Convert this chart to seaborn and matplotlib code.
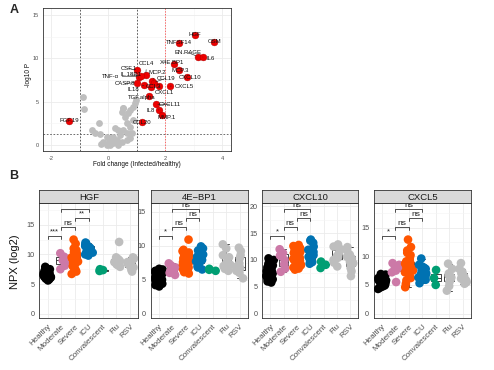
import numpy as np
import pandas as pd
import matplotlib
matplotlib.use("Agg")
import matplotlib.pyplot as plt
from matplotlib.ticker import MultipleLocator
import seaborn as sns

# ---------------- Panel A data (volcano) ----------------
red_names = ["HGF", "TNFSF14", "OSM", "EN.RAGE", "IL6", "X4E.BP1", "MCP.3", "CXCL10",
             "CXCL5", "CSF.1", "CCL4", "MCP.2", "TNF-α", "IL.18R1", "CASP.8", "CCL19",
             "CCL3", "IL18", "CXCL1", "TGF.alpha", "CXCL11", "IL8", "MMP.1", "CCL20", "FGF.19"]
red_fc = [3.05, 2.50, 3.73, 3.15, 3.32, 2.32, 2.47, 2.76,
          2.18, 1.00, 1.32, 1.55, 1.10, 1.14, 1.00, 1.60,
          1.52, 1.26, 1.80, 1.44, 1.67, 1.79, 1.90, 1.18, -1.36]
red_logp = [12.65, 11.80, 11.90, 10.20, 10.15, 9.35, 8.60, 7.90,
            6.80, 8.60, 8.10, 7.40, 7.90, 7.95, 7.20, 7.20,
            6.70, 6.90, 6.80, 5.66, 4.70, 4.05, 3.47, 2.62, 2.78]
gray_fc = [-0.89, -0.84, -0.32, -0.57, -0.28, -0.16, -0.05, 0.07, 0.19, 0.31,
           0.42, 0.07, -0.05, 0.19, 0.48, 0.54, 0.60, 0.71, 0.77, 0.87,
           0.95, 0.98, 0.66, 0.77, 0.54, 0.66, 0.36, 0.25, 0.89, -0.25,
           0.36, 0.48, 0.66, 0.77, 0.83, -0.46, 0.51, 0.02, 0.28, 0.12]
gray_logp = [5.50, 4.13, 2.50, 1.73, 1.24, 0.38, 0.05, 0.02, 0.20, 0.58,
             1.16, 0.77, 0.96, 0.96, 3.85, 4.24, 3.27, 3.66, 4.05, 4.43,
             4.80, 5.20, 2.50, 2.12, 1.73, 1.35, 1.73, 1.93, 2.90, 0.10,
             0.05, 0.38, 0.58, 0.77, 1.35, 1.35, 4.30, 0.45, 0.30, 0.55]

# ---------------- Panel B data ----------------
groups = ["Healthy", "Moderate", "Severe", "ICU", "Convalescent", "Flu", "RSV"]
proteins = ["HGF", "4E\u2212BP1", "CXCL10", "CXCL5"]

hgf_healthy = [5.6, 5.8, 5.9, 6.0, 6.1, 6.2, 6.2, 6.3, 6.4, 6.4, 6.5, 6.5, 6.6, 6.6, 6.7,
               6.7, 6.8, 6.8, 6.9, 7.0, 7.0, 7.1, 7.2, 7.3, 7.4, 7.5, 7.7, 7.9]
hgf_moderate = [7.5, 8.1, 8.8, 9.0, 9.4, 9.6, 10.2]
hgf_severe = [6.7, 7.1, 7.4, 7.8, 8.0, 8.2, 8.3, 8.5, 8.6, 8.7, 8.8, 8.9, 9.0, 9.0, 9.1,
              9.2, 9.3, 9.4, 9.5, 9.6, 9.7, 9.8, 9.9, 10.0, 10.2, 10.4, 10.7, 11.0, 11.8, 12.5]
hgf_icu = [9.8, 10.0, 10.2, 10.3, 10.5, 10.6, 10.8, 11.0, 11.1, 11.2, 11.4, 11.6, 11.8, 11.9, 12.0]
hgf_conv = [7.2, 7.35, 7.5]
hgf_flu = [7.9, 8.2, 8.3, 8.5, 8.7, 8.9, 9.0, 9.2, 9.5, 12.1]
hgf_rsv = [7.1, 7.4, 7.8, 8.0, 8.2, 8.3, 8.5, 8.7, 8.9, 9.1, 9.3, 9.5]

bp1_healthy = [4.0, 4.2, 4.3, 4.4, 4.5, 4.6, 4.7, 4.8, 4.9, 5.0, 5.0, 5.1, 5.2, 5.2, 5.3,
               5.4, 5.5, 5.5, 5.6, 5.7, 5.8, 5.9, 6.0, 6.1, 6.2, 6.3, 6.5, 6.6]
bp1_moderate = [5.7, 6.0, 6.3, 6.5, 6.8, 7.1, 7.4]
bp1_severe = [5.9, 6.1, 6.3, 6.5, 6.6, 6.8, 6.9, 7.0, 7.1, 7.2, 7.3, 7.4, 7.5, 7.6, 7.7,
              7.8, 7.9, 8.0, 8.1, 8.2, 8.3, 8.4, 8.5, 8.6, 8.7, 8.8, 9.0, 9.2, 9.4, 10.9]
bp1_icu = [6.5, 6.8, 7.0, 7.3, 7.5, 7.7, 7.9, 8.0, 8.2, 8.4, 8.7, 9.0, 9.3, 9.6, 9.9]
bp1_conv = [6.3, 6.45, 6.6]
bp1_flu = [6.3, 6.6, 6.9, 7.0, 7.2, 7.5, 8.3, 8.6, 9.6, 10.2]
bp1_rsv = [5.2, 6.0, 6.3, 6.5, 6.7, 6.8, 7.0, 7.4, 8.2, 8.6, 9.2, 9.7]

cx10_healthy = [5.8, 6.0, 6.2, 6.4, 6.5, 6.7, 6.8, 6.9, 7.0, 7.1, 7.2, 7.3, 7.4, 7.5, 7.6,
                7.7, 7.8, 7.9, 8.0, 8.2, 8.4, 8.6, 8.8, 9.0, 9.3, 9.6, 10.0, 10.3]
cx10_moderate = [7.8, 8.4, 9.2, 10.0, 10.8, 11.3, 12.0]
cx10_severe = [8.2, 8.4, 8.6, 8.8, 9.0, 9.2, 9.3, 9.4, 9.5, 9.6, 9.8, 9.9, 10.0, 10.2, 10.4,
               10.6, 10.8, 11.0, 11.1, 11.2, 11.3, 11.4, 11.5, 11.6, 11.8, 12.0, 12.2, 12.4, 12.6, 12.8]
cx10_icu = [9.3, 9.6, 9.8, 10.0, 10.3, 10.6, 10.9, 11.1, 11.3, 11.5, 11.9, 12.5, 13.2, 13.6, 13.8]
cx10_conv = [8.5, 9.1, 9.7]
cx10_flu = [8.8, 9.5, 10.0, 10.4, 10.7, 11.0, 11.5, 12.0, 12.5, 12.9]
cx10_rsv = [7.0, 7.9, 8.5, 9.0, 9.4, 9.7, 10.0, 10.3, 10.6, 11.0, 11.8, 12.4]

cx5_healthy = [4.3, 4.5, 4.6, 4.7, 4.8, 4.9, 5.0, 5.1, 5.2, 5.2, 5.3, 5.4, 5.5, 5.5, 5.6,
               5.7, 5.8, 5.8, 5.9, 6.0, 6.1, 6.2, 6.3, 6.4, 6.5, 6.6, 6.8, 6.9]
cx5_moderate = [5.5, 7.2, 7.5, 7.9, 8.0, 8.5, 8.8]
cx5_severe = [4.6, 5.2, 5.8, 6.2, 6.5, 6.8, 7.0, 7.2, 7.4, 7.5, 7.6, 7.7, 7.8, 7.9, 8.0,
              8.1, 8.2, 8.3, 8.4, 8.5, 8.7, 8.9, 9.1, 9.4, 9.8, 10.2, 10.6, 11.0, 11.6, 12.9]
cx5_icu = [5.3, 5.9, 6.3, 6.5, 6.7, 6.9, 7.0, 7.2, 7.4, 7.6, 7.8, 8.0, 8.2, 8.5, 9.6]
cx5_conv = [5.0, 6.2, 7.6]
cx5_flu = [4.0, 4.8, 5.5, 6.0, 6.2, 6.4, 6.7, 7.0, 7.8, 8.7]
cx5_rsv = [5.2, 5.5, 5.8, 6.0, 6.1, 6.3, 6.5, 6.8, 7.0, 7.3, 7.8, 8.8]

comparisons = [("Healthy", "Moderate"), ("Moderate", "Severe"), ("Severe", "ICU"), ("Moderate", "ICU")]
sig_hgf = ["***", "ns", "**", ""]
sig_bp1 = ["*", "ns", "ns", "ns"]
sig_cx10 = ["*", "ns", "ns", "ns"]
sig_cx5 = ["*", "ns", "ns", "ns"]

facet_values = [
    [hgf_healthy, hgf_moderate, hgf_severe, hgf_icu, hgf_conv, hgf_flu, hgf_rsv],
    [bp1_healthy, bp1_moderate, bp1_severe, bp1_icu, bp1_conv, bp1_flu, bp1_rsv],
    [cx10_healthy, cx10_moderate, cx10_severe, cx10_icu, cx10_conv, cx10_flu, cx10_rsv],
    [cx5_healthy, cx5_moderate, cx5_severe, cx5_icu, cx5_conv, cx5_flu, cx5_rsv],
]
facet_sigs = [sig_hgf, sig_bp1, sig_cx10, sig_cx5]

# ---------------- style ----------------
sns.set_theme(style="white")
plt.rcParams["font.family"] = ["Liberation Sans", "DejaVu Sans"]
plt.rcParams["axes.unicode_minus"] = False
np.random.seed(3)

palette = {"Healthy": "#000000", "Moderate": "#CC79A7", "Severe": "#FF5500", "ICU": "#0072B2",
           "Convalescent": "#009E73", "Flu": "#BEBEBE", "RSV": "#BEBEBE"}
GRID_MAJ = "#EBEBEB"
GRID_MIN = "#F4F4F4"
BORDER = "#333333"
TXT = "#4D4D4D"

W, H = 494, 370
fig = plt.figure(figsize=(W / 100, H / 100), dpi=100)


def px_rect(x0, y0, x1, y1):
    return [x0 / W, 1 - y1 / H, (x1 - x0) / W, (y1 - y0) / H]


def style_ax(ax, fs, pad=1.5):
    for s in ax.spines.values():
        s.set_color(BORDER)
        s.set_linewidth(0.6)
    ax.tick_params(axis="both", which="major", length=2, width=0.5, color=BORDER,
                   labelsize=fs, labelcolor=TXT, pad=pad)
    ax.tick_params(axis="both", which="minor", length=0)
    ax.grid(True, which="major", color=GRID_MAJ, linewidth=0.6, zorder=0)
    ax.grid(True, which="minor", color=GRID_MIN, linewidth=0.4, zorder=0)
    ax.set_axisbelow(True)


# ---------------- Panel A ----------------
axA = fig.add_axes(px_rect(43.3, 8.3, 230.7, 151.5))
volc = pd.DataFrame({
    "fc": red_fc + gray_fc,
    "logp": red_logp + gray_logp,
    "sig": ["sig"] * len(red_fc) + ["ns"] * len(gray_fc),
})
sns.scatterplot(data=volc[volc.sig == "ns"], x="fc", y="logp", color="#BEBEBE", s=24,
                linewidth=0, ax=axA, zorder=3)
sns.scatterplot(data=volc[volc.sig == "sig"], x="fc", y="logp", color="#EE0000", s=24,
                linewidth=0.3, edgecolor="#AA0000", ax=axA, zorder=4)
axA.set_xlim(-2.27, 4.3)
axA.set_ylim(-0.75, 15.77)
axA.xaxis.set_major_locator(MultipleLocator(2))
axA.xaxis.set_minor_locator(MultipleLocator(1))
axA.yaxis.set_major_locator(MultipleLocator(5))
axA.yaxis.set_minor_locator(MultipleLocator(2.5))
style_ax(axA, 4, pad=1.0)
axA.set_xlabel("")
axA.set_ylabel("")
for xv in (-1, 1):
    axA.axvline(xv, color="#444444", linestyle=(0, (2, 2)), linewidth=0.6, zorder=2)
axA.axvline(2, color="#FF3333", linestyle=(0, (2, 2)), linewidth=0.5, zorder=2)
axA.axhline(1.3, color="#555555", linestyle=(0, (2, 2)), linewidth=0.6, zorder=2)

label_offsets = {
    "HGF": (0, 0.7), "TNFSF14": (0, 0), "OSM": (0, 0), "EN.RAGE": (-7.2, 2.9), "IL6": (5.5, -1.2),
    "X4E.BP1": (-1.4, 0.7), "MCP.3": (1.4, 0), "CXCL10": (2.2, -0.7), "CXCL5": (10, 0),
    "CSF.1": (-5.8, 1.4), "CCL4": (0.7, 7.9), "MCP.2": (3.5, 6.0), "TNF-α": (-21, 0),
    "IL.18R1": (-7.2, 0.9), "CASP.8": (-8.6, -0.6), "CCL19": (8.6, 3.0), "CCL3": (1.5, 0.5),
    "IL18": (-7.9, -3.2), "CXCL1": (3.6, -5), "TGF.alpha": (-5, -1.4), "CXCL11": (10, 0),
    "IL8": (-5.8, -0.7), "MMP.1": (2.9, -1.6), "CCL20": (0, 0), "FGF.19": (0, 0),
}
for name, xv, yv in zip(red_names, red_fc, red_logp):
    dx, dy = label_offsets[name]
    seg = (dx * dx + dy * dy) > 30
    axA.annotate(name, (xv, yv), xytext=(dx, dy), textcoords="offset points",
                 ha="center", va="center", fontsize=4.3, color="#111111", zorder=6,
                 arrowprops=dict(arrowstyle="-", color="#222222", lw=0.4,
                                 shrinkA=0, shrinkB=1.5) if seg else None)

fig.text(28 / W, 1 - 75 / H, "-log10 P", rotation=90, ha="center", va="center",
         fontsize=4.7, color="#111111")
fig.text(137 / W, 1 - 164.5 / H, "Fold change (Infected/healthy)", ha="center", va="center",
         fontsize=4.7, color="#111111")
fig.text(14 / W, 1 - 10 / H, "A", ha="center", va="center", fontsize=9, fontweight="bold")
fig.text(14 / W, 1 - 176 / H, "B", ha="center", va="center", fontsize=9, fontweight="bold")

# ---------------- Panel B ----------------
facet_x = [(39.3, 138.3), (150.7, 248.0), (262.3, 358.3), (374.0, 470.7)]
ax_top, ax_bot, strip_top = 203.0, 318.3, 190.0

for fi, (prot, vals, sigs) in enumerate(zip(proteins, facet_values, facet_sigs)):
    x0, x1 = facet_x[fi]
    ax = fig.add_axes(px_rect(x0, ax_top, x1, ax_bot))
    df = pd.DataFrame({
        "group": [g for g, v in zip(groups, vals) for _ in v],
        "value": [x for v in vals for x in v],
    })
    sns.boxplot(data=df, x="group", y="value", order=groups, color="white",
                linecolor="#333333", linewidth=0.65, width=0.72, showfliers=False,
                ax=ax, zorder=2)
    sns.stripplot(data=df, x="group", y="value", order=groups, hue="group",
                  hue_order=groups, palette=palette, jitter=0.3, size=6.2, linewidth=0,
                  legend=False, ax=ax, zorder=3)
    dmax = df["value"].max()
    base = dmax * 1.05
    step = dmax * 0.12
    tick = dmax * 0.04
    top = base + step * (len(comparisons) - 1)
    ax.set_xlim(-0.6, 6.6)
    ax.set_ylim(-0.045 * top, top * 1.06)
    ax.yaxis.set_major_locator(MultipleLocator(5))
    ax.yaxis.set_minor_locator(MultipleLocator(2.5))
    style_ax(ax, 5.2)
    ax.set_xlabel("")
    ax.set_ylabel("")
    ax.set_xticks(range(len(groups)))
    ax.set_xticklabels(groups, rotation=45, ha="right", va="top", rotation_mode="anchor",
                       fontsize=5.8)
    for k, ((ga, gb), lab) in enumerate(zip(comparisons, sigs)):
        xa, xb = groups.index(ga), groups.index(gb)
        yb = base + step * k
        ax.plot([xa, xa, xb, xb], [yb - tick, yb, yb, yb - tick], color="#222222",
                lw=0.55, zorder=5, clip_on=True)
        if lab:
            ax.text((xa + xb) / 2, yb + tick * 0.15, lab, ha="center", va="bottom",
                    fontsize=6 if lab == "ns" else 5.5, color="#222222", zorder=5,
                    clip_on=True)
    # strip
    sax = fig.add_axes(px_rect(x0, strip_top, x1, ax_top))
    sax.set_facecolor("#D9D9D9")
    sax.set_xticks([])
    sax.set_yticks([])
    for s in sax.spines.values():
        s.set_color(BORDER)
        s.set_linewidth(0.6)
    sax.text(0.5, 0.45, prot, ha="center", va="center", fontsize=6.8, color="#1A1A1A",
             transform=sax.transAxes)

fig.text(15 / W, 1 - 262 / H, "NPX (log2)", rotation=90, ha="center", va="center",
         fontsize=8, color="#111111")

fig.savefig("out.png", dpi=100, facecolor="white")
